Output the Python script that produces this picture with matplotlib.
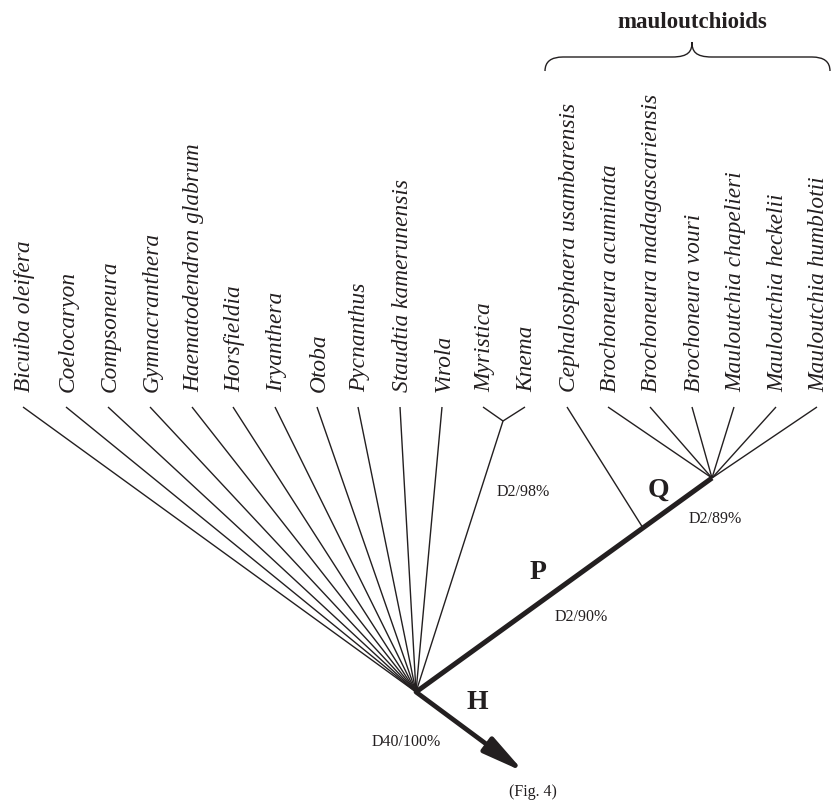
import matplotlib
matplotlib.use('Agg')
import numpy as np
import matplotlib.pyplot as plt
from matplotlib.path import Path
from matplotlib.patches import PathPatch

plt.rcParams['font.family'] = ['Liberation Serif', 'DejaVu Serif']

# tip taxa (left to right) and their tip x positions (pixel space)
taxa = ['Bicuiba oleifera', 'Coelocaryon', 'Compsoneura', 'Gymnacranthera',
        'Haematodendron glabrum', 'Horsfieldia', 'Iryanthera', 'Otoba',
        'Pycnanthus', 'Staudtia kamerunensis', 'Virola', 'Myristica', 'Knema',
        'Cephalosphaera usambarensis', 'Brochoneura acuminata',
        'Brochoneura madagascariensis', 'Brochoneura vouri',
        'Mauloutchia chapelieri', 'Mauloutchia heckelii', 'Mauloutchia humblotii']
tip_x = [23, 66, 108, 150, 192, 233, 275, 317, 358, 400, 442, 483, 525,
         567, 608, 650, 692, 734, 776, 817]
tip_y = 408

# internal nodes
root = (416, 693)
node_mk = (503, 422)      # Myristica + Knema
node_q = (712, 479)       # Brochoneura + Mauloutchia
node_c = (643, 529)       # Cephalosphaera attaches on P
arrow_tip = (524, 773)

# which tips hang from which node
from_root = taxa[:11]
from_mk = ['Myristica', 'Knema']
from_c = ['Cephalosphaera usambarensis']
from_q = taxa[14:]

# branch support labels (centres)
support = [('D2/98%', 523, 492), ('D2/90%', 581, 617),
           ('D2/89%', 715, 519), ('D40/100%', 406, 742)]
clade_letters = [('P', 538, 573), ('Q', 658, 490), ('H', 477, 703)]

ink = '#231f20'
fig = plt.figure(figsize=(8.32, 8.03), dpi=100)
ax = fig.add_axes([0, 0, 1, 1])
ax.set_xlim(0, 832)
ax.set_ylim(803, 0)
ax.axis('off')

xpos = dict(zip(taxa, tip_x))

def branch(a, name, lw=1.0):
    ax.plot([a[0], xpos[name]], [a[1], tip_y], color=ink, lw=lw,
            solid_capstyle='butt')

for t in from_root:
    branch(root, t)
ax.plot([root[0], node_mk[0]], [root[1], node_mk[1]], color=ink, lw=1.0)
for t in from_mk:
    branch(node_mk, t)
for t in from_c:
    branch(node_c, t)
for t in from_q:
    branch(node_q, t)

# thick stem P/Q
ax.plot([root[0], node_q[0]], [root[1], node_q[1]], color=ink, lw=3.6,
        solid_capstyle='butt')

# H arrow
ax.annotate('', xy=arrow_tip, xytext=root,
            arrowprops=dict(arrowstyle='-|>,head_length=2.5,head_width=0.55',
                            lw=3.4, color=ink, shrinkA=0, shrinkB=0))

# tip labels
for t, x in zip(taxa, tip_x):
    ax.text(x + 2, 392, t, rotation=90, ha='center', va='bottom',
            fontsize=16.8, style='italic', color=ink)

for s, x, y in support:
    ax.text(x, y, s, ha='center', va='center', fontsize=11.5, color=ink)
for s, x, y in clade_letters:
    ax.text(x, y, s, ha='center', va='center', fontsize=20,
            fontweight='bold', color=ink)

ax.text(533, 792, '(Fig. 4)', ha='center', va='center', fontsize=11.5, color=ink)

# brace over mauloutchioids
bl, bm, br = 545, 692, 830
verts = [(bl, 72), (bl, 58), (bl + 18, 58), (bm - 20, 58),
         (bm - 3, 58), (bm, 52), (bm, 43),
         (bm, 52), (bm + 3, 58), (bm + 20, 58),
         (br - 18, 58), (br, 58), (br, 72)]
codes = [Path.MOVETO, Path.CURVE3, Path.CURVE3, Path.LINETO,
         Path.CURVE4, Path.CURVE4, Path.CURVE4,
         Path.CURVE4, Path.CURVE4, Path.CURVE4,
         Path.LINETO, Path.CURVE3, Path.CURVE3]
ax.add_patch(PathPatch(Path(verts, codes), fill=False, lw=1.0, color=ink))
ax.text(bm, 22, 'mauloutchioids', ha='center', va='center', fontsize=16.5,
        fontweight='bold', color=ink)

fig.savefig('out.png', dpi=100)
